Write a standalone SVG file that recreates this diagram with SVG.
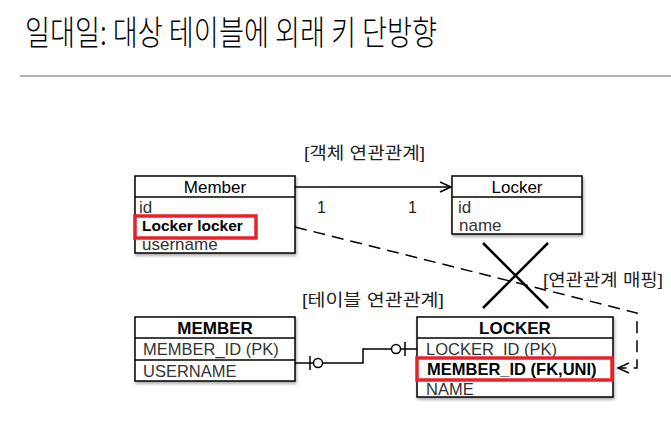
<svg xmlns="http://www.w3.org/2000/svg" width="671" height="430" viewBox="0 0 671 430">
<style>
text{font-family:"Liberation Sans","Noto Sans CJK KR",sans-serif;fill:#000}
.box{fill:#fff;stroke:#000;stroke-width:1.5}
.ln{stroke:#000;stroke-width:1.5;fill:none}
.hd{font-size:17px;text-anchor:middle}
.row{font-size:17px;fill:#333}
.trow{font-size:16.5px;fill:#333}
.red{fill:none;stroke:#e8222a;stroke-width:3.5}
.lbl{font-size:17px;fill:#222}
</style>
<defs>
<filter id="sh" x="-10%" y="-10%" width="130%" height="140%">
<feDropShadow dx="1" dy="2" stdDeviation="1.5" flood-color="#000" flood-opacity="0.35"/>
</filter>
<marker id="open" markerWidth="14" markerHeight="12" refX="12" refY="6" orient="auto" markerUnits="userSpaceOnUse">
<path d="M1,1 L12,6 L1,11" fill="none" stroke="#000" stroke-width="1.5"/>
</marker>
</defs>
<text x="25" y="45" textLength="412" lengthAdjust="spacingAndGlyphs" style="font-size:34px;font-family:'Noto Sans CJK KR',sans-serif;font-weight:300">일대일: 대상 테이블에 외래 키 단방향</text>
<line x1="20" y1="76" x2="671" y2="76" stroke="#999" stroke-width="1.5"/>

<text class="lbl" x="304" y="159" textLength="121" lengthAdjust="spacingAndGlyphs">[객체 연관관계]</text>
<text class="lbl" x="302" y="306" textLength="142" lengthAdjust="spacingAndGlyphs">[테이블 연관관계]</text>
<text class="lbl" x="543" y="286" textLength="120" lengthAdjust="spacingAndGlyphs">[연관관계 매핑]</text>

<g id="connectors">
<line class="ln" x1="295" y1="187" x2="451" y2="187" marker-end="url(#open)"/>
<text x="317" y="213" style="font-size:16px;fill:#222">1</text>
<text x="408" y="213" style="font-size:16px;fill:#222">1</text>
<polyline class="ln" points="295,227 637,313 637,368 618,368" stroke-dasharray="12,7" marker-end="url(#open)"/>
<line x1="483" y1="243" x2="548" y2="308" stroke="#000" stroke-width="2.5"/>
<line x1="548" y1="243" x2="483" y2="308" stroke="#000" stroke-width="2.5"/>
<polyline class="ln" points="295,363 363,363 363,349 417,349"/>
<line class="ln" x1="310" y1="356" x2="310" y2="370"/>
<circle cx="318" cy="363" r="4.5" fill="#fff" stroke="#000" stroke-width="1.5"/>
<circle cx="396" cy="349" r="4.5" fill="#fff" stroke="#000" stroke-width="1.5"/>
<line class="ln" x1="405" y1="342" x2="405" y2="356"/>
</g>

<g id="Member">
<rect class="box" x="135" y="176" width="160" height="77" filter="url(#sh)"/>
<line class="ln" x1="135" y1="197" x2="295" y2="197"/>
<text class="hd" x="215" y="193">Member</text>
<text class="row" x="139" y="213">id</text>
<text x="142" y="231" style="font-size:15.5px;font-weight:bold">Locker locker</text>
<text class="row" x="142" y="250">username</text>
<rect class="red" x="135" y="216" width="121" height="22"/>
</g>

<g id="Locker">
<rect class="box" x="452" y="176" width="130" height="58" filter="url(#sh)"/>
<line class="ln" x1="452" y1="197" x2="582" y2="197"/>
<text class="hd" x="517" y="193">Locker</text>
<text class="row" x="458" y="213">id</text>
<text class="row" x="459" y="231">name</text>
</g>

<g id="MEMBER">
<rect class="box" x="135" y="317" width="160" height="64" filter="url(#sh)"/>
<line class="ln" x1="135" y1="338" x2="295" y2="338"/>
<line class="ln" x1="135" y1="360" x2="295" y2="360"/>
<text class="hd" x="215" y="334" style="font-weight:bold">MEMBER</text>
<text class="trow" x="143" y="355">MEMBER_ID (PK)</text>
<text class="trow" x="143" y="377">USERNAME</text>
</g>

<g id="LOCKER">
<rect class="box" x="417" y="317" width="196" height="80" filter="url(#sh)"/>
<line class="ln" x1="417" y1="338" x2="613" y2="338"/>
<text class="hd" x="515" y="334" style="font-weight:bold">LOCKER</text>
<text class="trow" x="426" y="355">LOCKER_ID (PK)</text>
<text class="trow" x="427" y="375" style="font-weight:bold;fill:#000">MEMBER_ID (FK,UNI)</text>
<text class="trow" x="426" y="395">NAME</text>
<rect class="red" x="417" y="358" width="195" height="22"/>
</g>
</svg>
